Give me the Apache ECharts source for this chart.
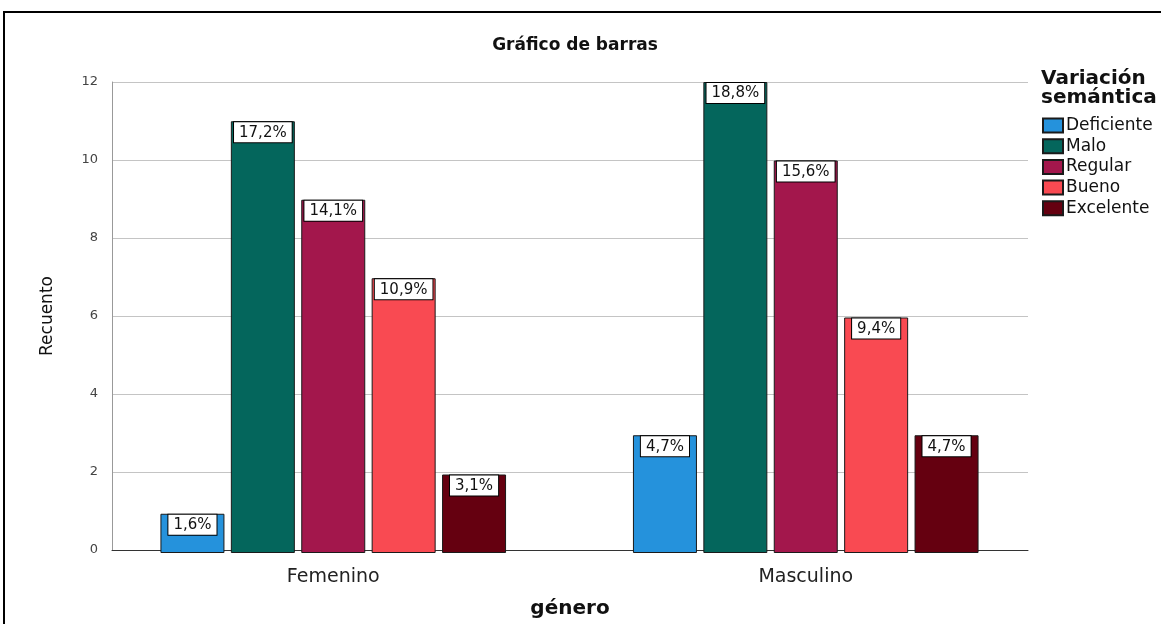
<!DOCTYPE html>
<html>
<head>
<meta charset="utf-8">
<script src="https://cdn.jsdelivr.net/npm/echarts@6/dist/echarts.min.js"></script>
<style>
html,body{margin:0;padding:0;background:#fff;}
#chart{width:1161px;height:624px;}
</style>
</head>
<body>
<div id="chart"></div>
<script>
const categories = ['Femenino', 'Masculino'];
const seriesNames = ['Deficiente', 'Malo', 'Regular', 'Bueno', 'Excelente'];
const deficiente = [1, 3];
const malo = [11, 12];
const regular = [9, 10];
const bueno = [7, 6];
const excelente = [2, 3];
const pctDeficiente = ['1,6%', '4,7%'];
const pctMalo = ['17,2%', '18,8%'];
const pctRegular = ['14,1%', '15,6%'];
const pctBueno = ['10,9%', '9,4%'];
const pctExcelente = ['3,1%', '4,7%'];
const yTicks = [0, 2, 4, 6, 8, 10, 12];

const values = [deficiente, malo, regular, bueno, excelente];
const pcts = [pctDeficiente, pctMalo, pctRegular, pctBueno, pctExcelente];
const colors = ['#2592dc', '#04665c', '#a3174c', '#f94a52', '#650010'];
const FONT = 'DejaVu Sans';

const chart = echarts.init(document.getElementById('chart'));
const option = {
  backgroundColor: '#ffffff',
  animation: false,
  title: [
    {
      text: 'Gráfico de barras', left: 570, top: 32, textAlign: 'center',
      textStyle: { fontFamily: FONT, fontSize: 17, fontWeight: 'bold', color: '#111' }
    },
    {
      text: 'Variación\nsemántica', left: 1041, top: 69, padding: 0,
      textStyle: { fontFamily: FONT, fontSize: 20, fontWeight: 'bold', color: '#111', lineHeight: 19 }
    }
  ],
  legend: {
    orient: 'vertical', left: 1042, top: 117, padding: 0,
    itemWidth: 20, itemHeight: 14, itemGap: 3.7, icon: 'rect',
    data: seriesNames,
    textStyle: { fontFamily: FONT, fontSize: 17, color: '#111', padding: [0, 0, 0, -2] }
  },
  graphic: [{
    type: 'rect', silent: true,
    shape: { x: 4, y: 12, width: 1200, height: 700 },
    style: { fill: 'none', stroke: '#000', lineWidth: 2 }
  }],
  grid: [
    { left: 112, right: 133, top: 82, bottom: 71 },
    { left: 97, right: 119, top: 82, bottom: 71 }
  ],
  xAxis: [
    {
      gridIndex: 0, type: 'value', min: 0, max: 1,
      axisLine: { show: true, lineStyle: { color: '#333', width: 1 } },
      axisTick: { show: false }, axisLabel: { show: false }, splitLine: { show: false },
      name: 'género', nameLocation: 'middle', nameGap: 49,
      nameTextStyle: { fontFamily: FONT, fontSize: 20, fontWeight: 'bold', color: '#111' }
    },
    {
      gridIndex: 1, type: 'category', data: categories,
      axisLine: { show: false }, axisTick: { show: false },
      axisLabel: { fontFamily: FONT, fontSize: 19, color: '#222', margin: 15 }
    }
  ],
  yAxis: [
    {
      gridIndex: 0, type: 'value', min: 0, max: 12, interval: 2,
      axisLine: { show: true, lineStyle: { color: '#999', width: 1 } },
      axisTick: { show: false },
      axisLabel: { fontFamily: FONT, fontSize: 13, color: '#444', margin: 14,
        formatter: v => yTicks.indexOf(v) >= 0 ? String(v) : '' },
      splitLine: { show: true, lineStyle: { color: '#c4c4c4', width: 1 } },
      name: 'Recuento', nameLocation: 'middle', nameGap: 56,
      nameTextStyle: { fontFamily: FONT, fontSize: 17, color: '#111' }
    },
    {
      gridIndex: 1, type: 'value', min: 0, max: 12, show: false
    }
  ],
  series: seriesNames.map((name, i) => ({
    name: name, type: 'bar', xAxisIndex: 1, yAxisIndex: 1,
    data: values[i], barWidth: 64, barGap: '10%',
    itemStyle: { color: colors[i], borderColor: '#1a1a1a', borderWidth: 1 },
    label: {
      show: true, position: 'insideTop', distance: 1,
      formatter: p => pcts[i][p.dataIndex],
      backgroundColor: '#ffffff', borderColor: '#000', borderWidth: 1,
      padding: [3, 5, 2, 5], fontFamily: FONT, fontSize: 15, color: '#111'
    }
  }))
};
chart.setOption(option);
</script>
</body>
</html>
